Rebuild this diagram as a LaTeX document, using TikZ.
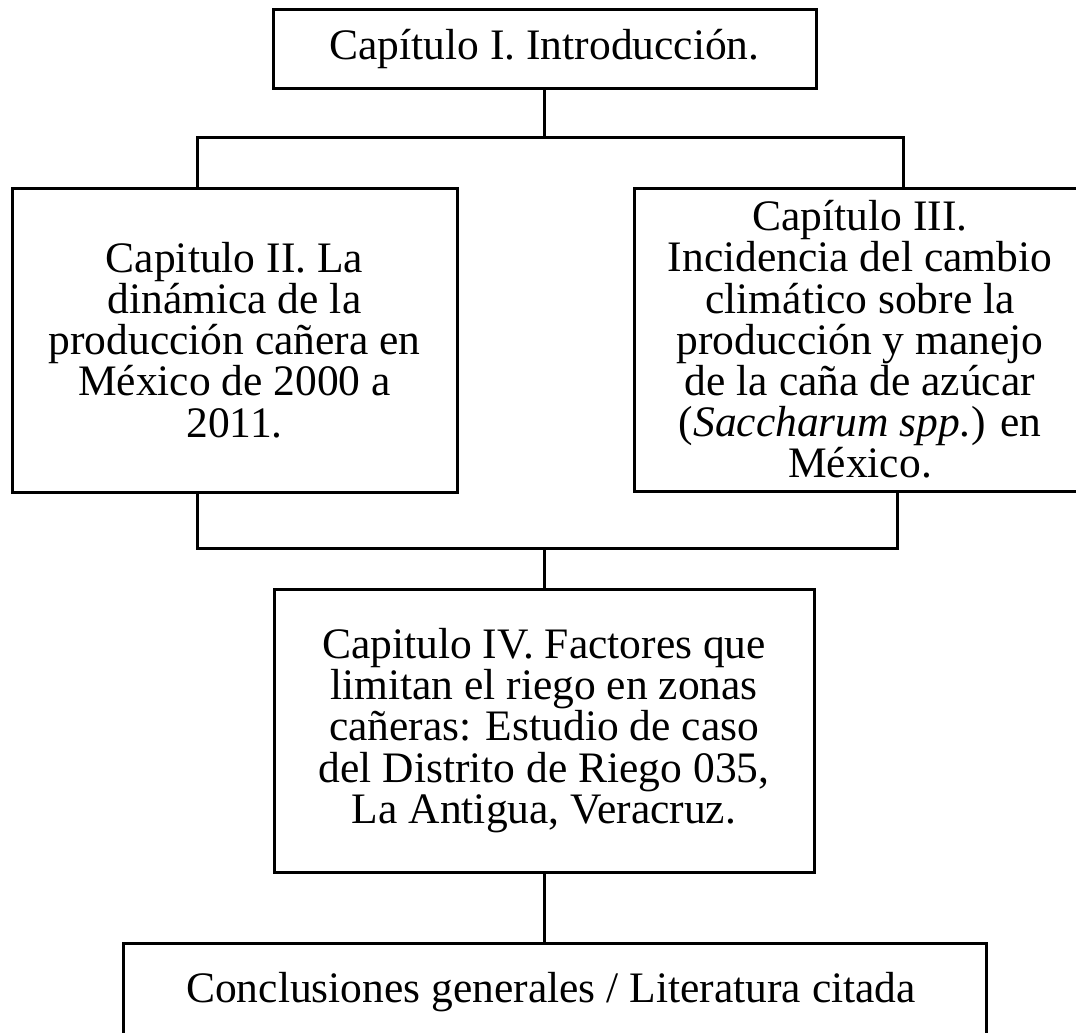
\documentclass[tikz,border=0pt]{standalone}
\usepackage{fontspec}
\setmainfont{Liberation Serif}
\begin{document}
\begin{tikzpicture}[x=1pt,y=-1pt,
  every node/.style={font=\fontsize{43.5}{41.2}\selectfont, text=black},
  chbox/.style={draw=black, line width=3pt, rectangle, inner sep=0pt, align=center, fill=white},
  conn/.style={draw=black, line width=3pt, line join=miter}]
\useasboundingbox (0,0) rectangle (1076,1033);
\clip (0,0) rectangle (1076,1033);
\fill[white] (0,0) rectangle (1076,1033);

\node[chbox, minimum width=543, minimum height=78] (c1) at (544.5,49) {Capítulo I. Introducción.};
\node[chbox, minimum width=445, minimum height=304] (c2) at (234.5,340) {Capitulo II. La\\dinámica de la\\producción cañera en\\México de 2000 a\\2011.};
\node[chbox, minimum width=452, minimum height=303] (c3) at (860,339.5) {Capítulo III.\\Incidencia del cambio\\climático sobre la\\producción y manejo\\de la caña de azúcar\\(\textit{Saccharum spp.}) en\\México.};
\node[chbox, minimum width=540, minimum height=283] (c4) at (544,730.5) {Capitulo IV. Factores que\\limitan el riego en zonas\\cañeras: Estudio de caso\\del Distrito de Riego 035,\\La Antigua, Veracruz.};
\node[chbox, minimum width=863, minimum height=130, anchor=north] (c5) at (554.5,942) {};
\node[anchor=base] (c5t) at (551,1002) {Conclusiones generales / Literatura citada};

\coordinate (jl) at (197,137);
\coordinate (jr) at (903,137);
\coordinate (kl) at (197,548);
\coordinate (kr) at (897,548);

\draw[conn] (c1.south) -- (c1.south |- jl);
\draw[conn] (c2.north -| jl) -- (jl) -- (jr) -- (c3.north -| jr);
\draw[conn] (c2.south -| kl) -- (kl) -- (kr) -- (c3.south -| kr);
\draw[conn] (c4.north) -- (c4.north |- kl);
\draw[conn] (c4.south) -- (c4.south |- c5.north);
\end{tikzpicture}
\end{document}
